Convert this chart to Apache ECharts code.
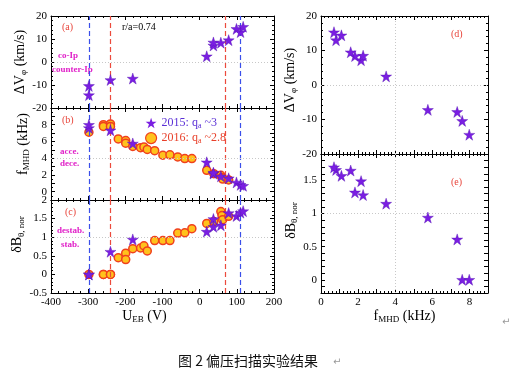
<!DOCTYPE html>
<html><head><meta charset="utf-8">
<script src="https://cdn.jsdelivr.net/npm/echarts@6/dist/echarts.min.js"></script>
<style>html,body{margin:0;padding:0;background:#fff}#c{width:520px;height:371px}</style>
</head><body><div id="c"></div>
<script>
// 2015 shots (q_a ~3)
const uEb2015 = [-298, -298, -240, -180, 19, 37, 37, 57, 78, 99, 110, 117];
const dV2015  = [-10.4, -14.4, -7.8, -7.2, 2.5, 7.2, 8.5, 8.4, 9.5, 14.4, 13.0, 15.3];
const f2015   = [7.61, 7.99, 7.34, 5.76, 3.51, 2.16, 2.27, 1.83, 1.60, 1.10, 0.81, 0.70];
const dB2015  = [0, 0, 0.61, 0.94, 1.15, 1.49, 1.28, 1.32, 1.65, 1.57, 1.66, 1.70];
// 2016 shots (q_a ~2.8)
const uEb2016 = [-298, -259, -259, -240, -240, -219, -199, -199, -180, -159, -150, -141, -121, -99, -80, -59, -40, -21, 19, 38, 57, 60, 62, 78];
const f2016   = [7.1, 8.0, 7.8, 8.1, 7.8, 6.3, 6.1, 5.8, 5.4, 5.25, 5.35, 5.05, 4.9, 4.35, 4.4, 4.15, 3.95, 3.95, 2.55, 2.15, 1.95, 1.7, 1.5, 1.4];
const dB2016  = [0, 0, 0, 0, 0, 0.45, 0.57, 0.40, 0.69, 0.71, 0.77, 0.63, 0.91, 0.91, 0.91, 1.11, 1.12, 1.23, 1.37, 1.42, 1.69, 1.58, 1.47, 1.56];
// reference lines
const blueLinesU = [-298, 109];
const redLinesU  = [-240, 68];

const zip = (a, b) => a.map((v, i) => [v, b[i]]);
const SERIF = 'Liberation Serif';
const STAR = 'path://M50,0 L61.8,35.5 L99,35.5 L69,57.5 L80.5,93 L50,71 L19.5,93 L31,57.5 L1,35.5 L38.2,35.5 Z';
const PURPLE = '#7A1EE2';
const ORANGE = '#FFC21C';
const RED = '#F0401E';

const grids = [
  {left: 51, top: 16, width: 223, height: 92},
  {left: 51, top: 108, width: 223, height: 92},
  {left: 51, top: 200, width: 223, height: 93},
  {left: 321, top: 16, width: 167, height: 138},
  {left: 321, top: 154, width: 167, height: 139}
];

function axis(g, pos, opt) {
  return Object.assign({
    gridIndex: g, position: pos, type: 'value',
    axisLine: {show: true, onZero: false, lineStyle: {color: '#000', width: 1}},
    axisTick: {show: true, inside: true, length: 4, lineStyle: {color: '#000', width: 1}},
    minorTick: {show: opt.minor !== 1, splitNumber: opt.minor || 5, length: 2, lineStyle: {color: '#000', width: 1}},
    splitLine: {show: false},
    axisLabel: {show: !!opt.label, color: '#000', fontFamily: SERIF, fontSize: 11, margin: 4,
      formatter: opt.fmt, showMaxLabel: true, showMinLabel: true},
  }, opt.extra || {}, {min: opt.min, max: opt.max, interval: opt.interval});
}

const nameRich = {
  n: {fontFamily: SERIF, fontSize: 14, color: '#000'},
  s: {fontFamily: SERIF, fontSize: 9, color: '#000', padding: [7, 0, 0, 0]}
};

const evenFmt = (lo, hi) => (v) => {
  const r = Math.round(v);
  return (Math.abs(v - r) < 1e-6 && r % 2 === 0 && r >= lo && r <= hi) ? String(r) : '';
};
const halfFmt = (v) => {
  const h = Math.round(v * 2);
  return (Math.abs(v * 2 - h) < 1e-6 && v >= -1e-6 && v <= 1.5 + 1e-6) ? String(h / 2) : '';
};

const xAxes = [], yAxes = [];
for (let g = 0; g < 3; g++) {
  xAxes.push(axis(g, 'bottom', {min: -400, max: 200, interval: 100, label: g === 2,
    extra: g === 2 ? {name: '{n|U}{s|EB}{n| (V)}', nameLocation: 'middle', nameGap: 14,
      nameTextStyle: {rich: nameRich, padding: [0, 36, 0, 0]}} : {}}));
  xAxes.push(axis(g, 'top', {min: -400, max: 200, interval: 100}));
}
for (let g = 3; g < 5; g++) {
  xAxes.push(axis(g, 'bottom', {min: 0, max: 9, interval: 1, label: g === 4, fmt: evenFmt(0, 8),
    extra: g === 4 ? {name: '{n|f}{s|MHD}{n| (kHz)}', nameLocation: 'middle', nameGap: 14,
      nameTextStyle: {rich: nameRich}} : {}}));
  xAxes.push(axis(g, 'top', {min: 0, max: 9, interval: 1}));
}
const yDefs = [
  {min: -20, max: 20, interval: 10, minor: 5, name: '{n|ΔV}{s|φ}{n| (km/s)}', gap: 21, pad: [0, 0, 0, 0]},
  {min: -1, max: 10, interval: 1, minor: 2, fmt: evenFmt(0, 8), name: '{n|f}{s|MHD}{n| (kHz)}', gap: 20, pad: [0, 0, 0, 20]},
  {min: -0.5, max: 2, interval: 0.5, minor: 5, name: '{n|δB}{s|θ, nor}', gap: 24, pad: [0, 0, 0, 24]},
  {min: -20, max: 20, interval: 10, minor: 5, name: '{n|ΔV}{s|φ}{n| (km/s)}', gap: 21, pad: [0, 0, 0, 10]},
  {min: -0.2, max: 1.9, interval: 0.1, minor: 1, fmt: halfFmt, name: '{n|δB}{s|θ, nor}', gap: 20, pad: [0, 0, 0, 6]}
];
yDefs.forEach((d, g) => {
  yAxes.push(axis(g, 'left', {min: d.min, max: d.max, interval: d.interval, minor: d.minor, label: true, fmt: d.fmt,
    extra: {name: d.name, nameLocation: 'middle', nameGap: d.gap, nameRotate: 90,
      nameTextStyle: {rich: nameRich, padding: d.pad}}}));
  yAxes.push(axis(g, 'right', {min: d.min, max: d.max, interval: d.interval, minor: d.minor}));
});

const vLines = () => blueLinesU.map(u => ({xAxis: u, lineStyle: {color: '#3B4FEA', type: [5, 3], width: 1.2}}))
  .concat(redLinesU.map(u => ({xAxis: u, lineStyle: {color: '#EC4A3C', type: [5, 3], width: 1.2}})));
const dotted = {color: '#C8C8C8', type: [1, 2], width: 1};
const ml = (data) => ({silent: true, symbol: ['none', 'none'], label: {show: false}, animation: false, data});

const starStyle = {color: PURPLE, borderColor: '#5210B0', borderWidth: 0.4, opacity: 1};
const circStyle = {color: ORANGE, borderColor: RED, borderWidth: 1.5, opacity: 1};

const series = [
  {type: 'scatter', name: '2015', xAxisIndex: 0, yAxisIndex: 0, data: zip(uEb2015, dV2015), symbol: STAR, symbolSize: 11,
    itemStyle: starStyle, z: 5,
    markLine: ml(vLines().concat([{yAxis: 0, lineStyle: dotted}]))},
  {type: 'scatter', name: '2016', xAxisIndex: 2, yAxisIndex: 2, data: zip(uEb2016, f2016), symbol: 'circle', symbolSize: 8,
    itemStyle: circStyle, z: 3,
    markLine: ml(vLines().concat([{yAxis: 4, lineStyle: dotted}]))},
  {type: 'scatter', name: '2015', xAxisIndex: 2, yAxisIndex: 2, data: zip(uEb2015, f2015), symbol: STAR, symbolSize: 11,
    itemStyle: starStyle, z: 5},
  {type: 'scatter', name: '2016', xAxisIndex: 4, yAxisIndex: 4, data: zip(uEb2016, dB2016), symbol: 'circle', symbolSize: 8,
    itemStyle: circStyle, z: 3,
    markLine: ml(vLines().concat([{yAxis: 1, lineStyle: dotted}]))},
  {type: 'scatter', name: '2015', xAxisIndex: 4, yAxisIndex: 4, data: zip(uEb2015, dB2015), symbol: STAR, symbolSize: 11,
    itemStyle: starStyle, z: 5},
  {type: 'scatter', name: '2015', xAxisIndex: 6, yAxisIndex: 6, data: zip(f2015, dV2015), symbol: STAR, symbolSize: 11,
    itemStyle: starStyle, z: 5,
    markLine: ml([{yAxis: 0, lineStyle: dotted}, {xAxis: 4, lineStyle: dotted}])},
  {type: 'scatter', name: '2015', xAxisIndex: 8, yAxisIndex: 8, data: zip(f2015, dB2015), symbol: STAR, symbolSize: 11,
    itemStyle: starStyle, z: 5,
    markLine: ml([{yAxis: 1, lineStyle: dotted}, {xAxis: 4, lineStyle: dotted}])}
];

const t = (x, y, text, color, size, bold, align) => ({type: 'text', x, y,
  style: {text, fill: color, font: (bold ? 'bold ' : '') + size + 'px "' + SERIF + '"', textAlign: align || 'left', textVerticalAlign: 'middle'}});
const MAG = '#E020C8';
const graphic = [
  t(62, 27, '(a)', '#E8443A', 10),
  t(122, 27, 'r/a=0.74', '#000', 10),
  t(58, 56, 'co-Ip', MAG, 9, true),
  t(52, 70, 'counter-Ip', MAG, 9, true),
  t(62, 120, '(b)', '#E8443A', 10),
  t(60, 152, 'acce.', MAG, 9, true),
  t(60, 164, 'dece.', MAG, 9, true),
  t(65, 212, '(c)', '#E8443A', 10),
  t(57, 231, 'destab.', MAG, 9, true),
  t(61, 245, 'stab.', MAG, 9, true),
  t(451, 34, '(d)', '#E8443A', 10),
  t(451, 182, '(e)', '#E8443A', 10),
  {type: 'text', x: 178, y: 361, style: {text: '图 2 偏压扫描实验结果', fill: '#111', font: '14px "Noto Sans CJK SC"', textVerticalAlign: 'middle'}},
  {type: 'text', x: 333, y: 362, style: {text: '↵', fill: '#999', font: '10px "DejaVu Sans"', textVerticalAlign: 'middle'}},
  {type: 'text', x: 502, y: 322, style: {text: '↵', fill: '#999', font: '10px "DejaVu Sans"', textVerticalAlign: 'middle'}}
];

const chart = echarts.init(document.getElementById('c'), null, {renderer: 'canvas'});
chart.setOption({
  animation: false,
  backgroundColor: '#fff',
  grid: grids.map(g => Object.assign({containLabel: false}, g)),
  xAxis: xAxes, yAxis: yAxes, series, graphic,
  legend: {
    orient: 'vertical', left: 145, top: 117, itemGap: 2, itemWidth: 11, itemHeight: 11, padding: 0,
    selectedMode: false,
    data: [
      {name: '2015', icon: STAR, itemStyle: {color: PURPLE, opacity: 1, borderWidth: 0}},
      {name: '2016', icon: 'circle', itemStyle: {color: ORANGE, borderColor: RED, borderWidth: 1.2, opacity: 1}}
    ],
    formatter: (name) => name === '2015' ? '{p|2015: q}{ps|a}{p| ~3}' : '{r|2016: q}{rs|a}{r| ~2.8}',
    textStyle: {
      rich: {
        p: {fontFamily: SERIF, fontSize: 12, color: '#5A2FD6'},
        ps: {fontFamily: SERIF, fontSize: 8, color: '#5A2FD6', padding: [6, 0, 0, 0]},
        r: {fontFamily: SERIF, fontSize: 12, color: '#E8402A'},
        rs: {fontFamily: SERIF, fontSize: 8, color: '#E8402A', padding: [6, 0, 0, 0]}
      }
    }
  }
});
</script></body></html>
